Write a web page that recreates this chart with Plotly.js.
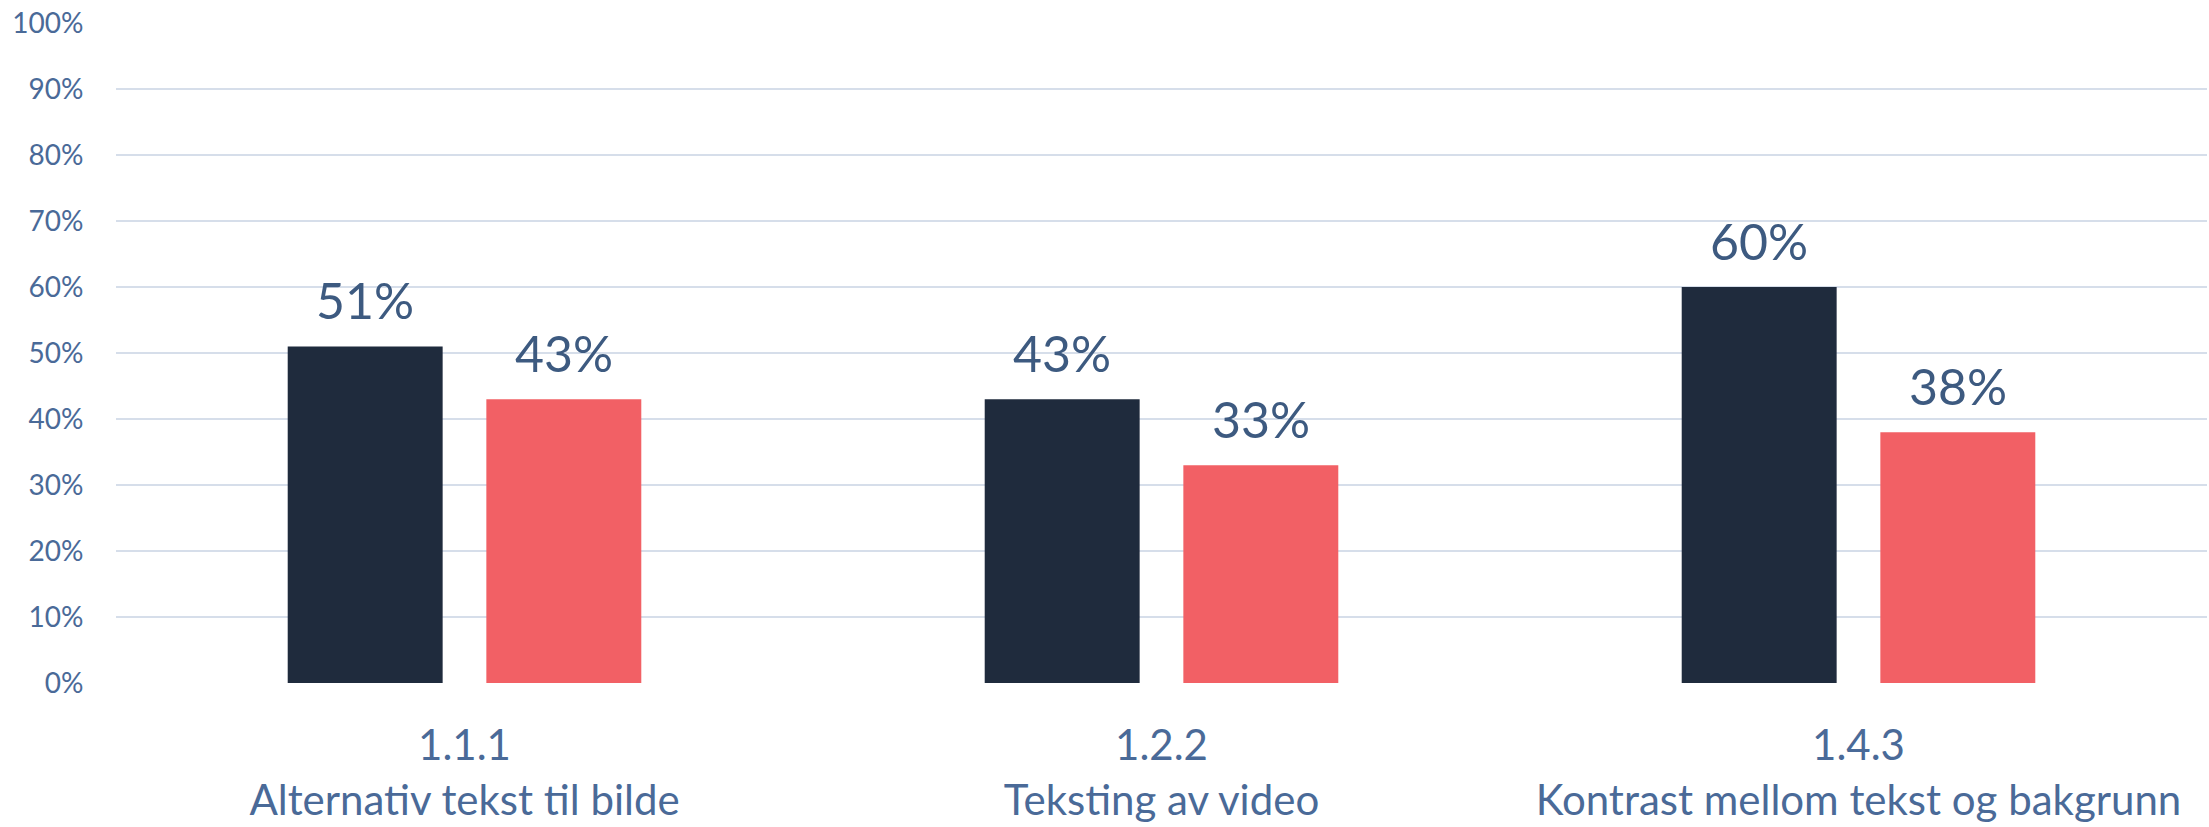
<!DOCTYPE html>
<html>
<head>
<meta charset="utf-8">
<script src="https://cdn.plot.ly/plotly-3.0.1.min.js"></script>
<style>
  html, body { margin: 0; padding: 0; background: #ffffff; }
  #chart { width: 2209px; height: 827px; }
</style>
</head>
<body>
<div id="chart"></div>
<script>
// ---- Data ----
const categories = ["1.1.1<br>Alternativ tekst til bilde", "1.2.2<br>Teksting av video", "1.4.3<br>Kontrast mellom tekst og bakgrunn"];
const seriesA = [0.51, 0.43, 0.60];
const seriesB = [0.43, 0.33, 0.38];
const yTickVals = [0, 0.1, 0.2, 0.3, 0.4, 0.5, 0.6, 0.7, 0.8, 0.9, 1.0];
const yTickText = ["0%", "10%", "20%", "30%", "40%", "50%", "60%", "70%", "80%", "90%", "100%"];

// ---- Style ----
const FONT = "Lato, 'Open Sans', sans-serif";
const colorA = "#1f2b3d";
const colorB = "#f26065";
const tickColor = "#4a6a98";
const labelColor = "#3d5a80";
const bargap = 0.43;
const bargroupgap = 0.22;

const fmt = v => Math.round(v * 100) + "%";

const traceA = {
  type: "bar", x: categories, y: seriesA,
  marker: { color: colorA }, hoverinfo: "skip", showlegend: false
};
const traceB = {
  type: "bar", x: categories, y: seriesB,
  marker: { color: colorB }, hoverinfo: "skip", showlegend: false
};

// data labels above bars, positioned via category index and group offsets
const slot = (1 - bargap) / 2;
const annotations = [];
[seriesA, seriesB].forEach((s, si) => {
  s.forEach((v, i) => {
    annotations.push({
      xref: "x", yref: "y",
      x: i + (si === 0 ? -slot / 2 : slot / 2),
      y: v, text: fmt(v), showarrow: false,
      yanchor: "bottom", yshift: 14,
      font: { family: FONT, size: 50, color: labelColor }
    });
  });
});

const layout = {
  width: 2209, height: 827,
  margin: { l: 116, r: 2, t: 23, b: 144 },
  paper_bgcolor: "#ffffff", plot_bgcolor: "#ffffff",
  barmode: "group", bargap: bargap, bargroupgap: bargroupgap,
  xaxis: {
    type: "category",
    showgrid: false, zeroline: false, showline: false,
    ticks: "outside", ticklen: 26, tickcolor: "rgba(0,0,0,0)",
    tickfont: { family: FONT, size: 42, color: tickColor },
    fixedrange: true
  },
  yaxis: {
    range: [0, 1],
    tickvals: yTickVals, ticktext: yTickText,
    showgrid: true, gridcolor: "#d6deea", gridwidth: 2,
    zeroline: false, showline: false,
    ticks: "outside", ticklen: 26, tickcolor: "rgba(0,0,0,0)",
    tickfont: { family: FONT, size: 28, color: tickColor },
    fixedrange: true
  },
  annotations: annotations,
  showlegend: false
};

Plotly.newPlot("chart", [traceA, traceB], layout, { displayModeBar: false, staticPlot: true });
</script>
</body>
</html>
